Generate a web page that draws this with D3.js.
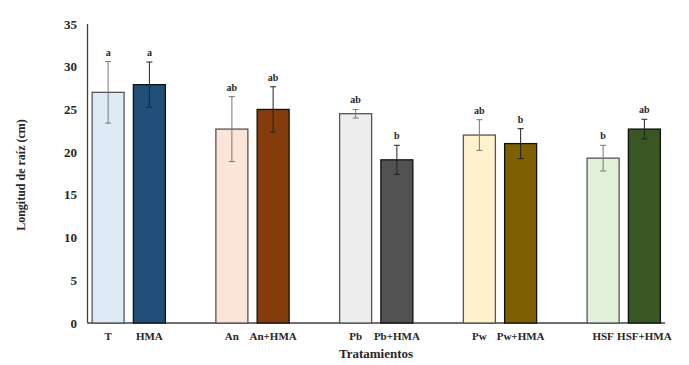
<!DOCTYPE html>
<html>
<head>
<meta charset="utf-8">
<script src="https://cdn.jsdelivr.net/npm/d3@7"></script>
<style>
  body { margin: 0; background: #fff; }
  text { font-family: "Liberation Serif", "Times New Roman", serif; font-weight: bold; }
</style>
</head>
<body>
<svg width="689" height="365"></svg>
<script>
const svg = d3.select("svg");

// data
const treatments = ["T", "HMA", "An", "An+HMA", "Pb", "Pb+HMA", "Pw", "Pw+HMA", "HSF", "HSF+HMA"];
const means = [27.0, 27.9, 22.7, 25.0, 24.5, 19.1, 22.0, 21.0, 19.3, 22.7];
const errs = [3.6, 2.65, 3.8, 2.65, 0.5, 1.7, 1.8, 1.75, 1.5, 1.15];
const letters = ["a", "a", "ab", "ab", "ab", "b", "ab", "b", "b", "ab"];
const fills = ["#DEEBF7", "#1F4E79", "#FBE5D6", "#843C0C", "#EDEDED", "#525252", "#FFF2CC", "#7F6000", "#E2F0D9", "#385723"];
const yTicks = [0, 5, 10, 15, 20, 25, 30, 35];

const rows = treatments.map((t, i) => ({
  name: t, mean: means[i], err: errs[i], letter: letters[i], fill: fills[i],
  slot: Math.floor(i / 2) * 3 + (i % 2)   // pairs separated by one empty slot
}));

const x0 = 87.5, x1 = 665, yTop = 24, yBase = 323;
const x = d3.scaleLinear().domain([-0.5, 13.5]).range([x0, x1]);
const y = d3.scaleLinear().domain([0, 35]).range([yBase, yTop]);
const barW = 32;

// axes lines
svg.append("line").attr("x1", x0).attr("x2", x0).attr("y1", yTop).attr("y2", yBase)
  .attr("stroke", "#404040").attr("stroke-width", 1.3);
svg.append("line").attr("x1", x0).attr("x2", x1).attr("y1", yBase).attr("y2", yBase)
  .attr("stroke", "#404040").attr("stroke-width", 1.3);

// y tick labels
svg.selectAll("text.ytick")
  .data(yTicks)
  .enter()
  .append("text")
  .attr("class", "ytick")
  .attr("x", 77)
  .attr("y", d => y(d))
  .attr("dy", "0.35em")
  .attr("text-anchor", "end")
  .attr("font-size", 13)
  .attr("fill", "#262626")
  .text(d => d);

// bars
svg.selectAll("rect.bar")
  .data(rows)
  .enter()
  .append("rect")
  .attr("class", "bar")
  .attr("x", d => x(d.slot) - barW / 2)
  .attr("y", d => y(d.mean))
  .attr("width", barW)
  .attr("height", d => yBase - y(d.mean))
  .attr("fill", d => d.fill)
  .attr("stroke", (d, i) => i % 2 ? "#111" : "#555")
  .attr("stroke-width", 1.3);

// error bars
const eb = svg.selectAll("g.err").data(rows).enter().append("g").attr("class", "err")
  .attr("stroke", (d, i) => i % 2 ? "#222" : "#777").attr("stroke-width", 1);
eb.append("line")
  .attr("x1", d => x(d.slot)).attr("x2", d => x(d.slot))
  .attr("y1", d => y(d.mean + d.err)).attr("y2", d => y(d.mean - d.err));
eb.append("line")
  .attr("x1", d => x(d.slot) - 3).attr("x2", d => x(d.slot) + 3)
  .attr("y1", d => y(d.mean + d.err)).attr("y2", d => y(d.mean + d.err));
eb.append("line")
  .attr("x1", d => x(d.slot) - 3).attr("x2", d => x(d.slot) + 3)
  .attr("y1", d => y(d.mean - d.err)).attr("y2", d => y(d.mean - d.err));

// significance letters
svg.selectAll("text.letter")
  .data(rows)
  .enter()
  .append("text")
  .attr("class", "letter")
  .attr("x", d => x(d.slot))
  .attr("y", d => y(d.mean + d.err) - 6)
  .attr("text-anchor", "middle")
  .attr("font-size", 10)
  .attr("fill", "#262626")
  .text(d => d.letter);

// category labels
svg.selectAll("text.cat")
  .data(rows)
  .enter()
  .append("text")
  .attr("class", "cat")
  .attr("x", d => x(d.slot))
  .attr("y", 340)
  .attr("text-anchor", "middle")
  .attr("font-size", 11)
  .attr("fill", "#262626")
  .text(d => d.name);

// axis titles
svg.append("text")
  .attr("x", 376)
  .attr("y", 358)
  .attr("text-anchor", "middle")
  .attr("font-size", 13)
  .attr("fill", "#262626")
  .text("Tratamientos");

svg.append("text")
  .attr("transform", "translate(25,175) rotate(-90)")
  .attr("text-anchor", "middle")
  .attr("font-size", 12)
  .attr("fill", "#262626")
  .text("Longitud de raíz (cm)");
</script>
</body>
</html>
